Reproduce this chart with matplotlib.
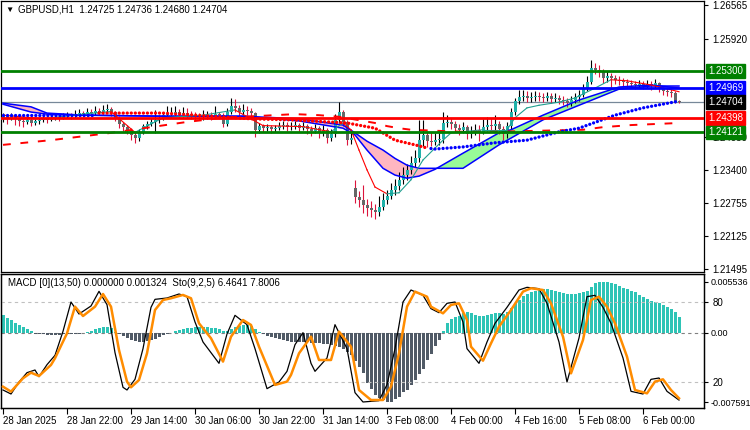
import matplotlib
matplotlib.use("Agg")
import matplotlib.pyplot as plt
import matplotlib.transforms as mtransforms
import numpy as np

plt.rcParams["font.family"] = ["Liberation Sans", "DejaVu Sans"]
plt.rcParams["font.size"] = 7

# ---- price data (H1 bars, GBPUSD) ----
first_open = 1.2440
gap_opens = {88: 1.2305, 169: 1.24725}

closes = [
    1.2443, 1.2440, 1.2445, 1.2438, 1.2434, 1.2432, 1.2436, 1.2430, 1.2434, 1.2436,
    1.2438, 1.2436, 1.2440, 1.2442, 1.2440, 1.2443, 1.2445, 1.2443, 1.2447, 1.2449,
    1.2447, 1.2451, 1.2449, 1.2453, 1.2451, 1.2455, 1.2457, 1.2451, 1.2440, 1.2428,
    1.2422, 1.2417, 1.2407, 1.2401, 1.2413, 1.2424, 1.2428, 1.2432, 1.2436, 1.2440,
    1.2445, 1.2447, 1.2449, 1.2451, 1.2447, 1.2449, 1.2447, 1.2445, 1.2443, 1.2442,
    1.2443, 1.2445, 1.2443, 1.2447, 1.2445, 1.2428, 1.2451, 1.2463, 1.2459, 1.2451,
    1.2455, 1.2453, 1.2449, 1.2417, 1.2424, 1.2420, 1.2422, 1.2418, 1.2420, 1.2424,
    1.2426, 1.2422, 1.2424, 1.2426, 1.2420, 1.2424, 1.2418, 1.2415, 1.2420, 1.2413,
    1.2417, 1.2401, 1.2409, 1.2436, 1.2451, 1.2432, 1.2397, 1.2401, 1.2288, 1.2282,
    1.2273, 1.2267, 1.2263, 1.2259, 1.2269, 1.2282, 1.2290, 1.2301, 1.2309, 1.2321,
    1.2330, 1.2340, 1.2353, 1.2363, 1.2397, 1.2407, 1.2395, 1.2393, 1.2397, 1.2399,
    1.2430, 1.2432, 1.2428, 1.2420, 1.2417, 1.2422, 1.2409, 1.2413, 1.2417, 1.2411,
    1.2422, 1.2426, 1.2424, 1.2428, 1.2418, 1.2409, 1.2424, 1.2451, 1.2472, 1.2480,
    1.2482, 1.2478, 1.2480, 1.2482, 1.2480, 1.2478, 1.2482, 1.2476, 1.2478, 1.2474,
    1.2472, 1.2468, 1.2474, 1.2480, 1.2484, 1.2497, 1.2509, 1.2536, 1.2532, 1.2528,
    1.2516, 1.2520, 1.2516, 1.2513, 1.2511, 1.2509, 1.2507, 1.2505, 1.2503, 1.2505,
    1.2503, 1.2505, 1.2501, 1.2507, 1.2495, 1.2491, 1.2490, 1.2488, 1.24725, 1.24704,
]
highs = [
    1.2449, 1.2447, 1.2450, 1.2448, 1.2442, 1.2438, 1.2441, 1.2439, 1.2438, 1.2440,
    1.2444, 1.2442, 1.2445, 1.2447, 1.2446, 1.2449, 1.2452, 1.2450, 1.2454, 1.2456,
    1.2453, 1.2458, 1.2456, 1.2462, 1.2459, 1.2464, 1.2466, 1.2460, 1.2453, 1.2443,
    1.2432, 1.2426, 1.2420, 1.2412, 1.2418, 1.2428, 1.2434, 1.2440, 1.2455, 1.2446,
    1.2452, 1.2462, 1.2460, 1.2463, 1.2456, 1.2460, 1.2458, 1.2453, 1.2452, 1.2450,
    1.2455, 1.2453, 1.2451, 1.2462, 1.2452, 1.2449, 1.2458, 1.2478, 1.2476, 1.2465,
    1.2466, 1.2462, 1.2458, 1.2452, 1.2430, 1.2428, 1.2429, 1.2426, 1.2427, 1.2431,
    1.2434, 1.2431, 1.2432, 1.2434, 1.2430, 1.2432, 1.2428, 1.2424, 1.2428, 1.2424,
    1.2427, 1.2420, 1.2418, 1.2448, 1.2470, 1.2455, 1.2436, 1.2410, 1.2320, 1.2300,
    1.2310, 1.2285, 1.2280, 1.2275, 1.2290, 1.2295, 1.2302, 1.2315, 1.2322, 1.2335,
    1.2345, 1.2352, 1.2366, 1.2378, 1.2436, 1.2436, 1.2414, 1.2412, 1.2410, 1.2412,
    1.2451, 1.2446, 1.2440, 1.2434, 1.2428, 1.2432, 1.2426, 1.2424, 1.2428, 1.2426,
    1.2438, 1.2442, 1.2440, 1.2445, 1.2434, 1.2425, 1.2432, 1.2458, 1.2478, 1.2494,
    1.2493, 1.2492, 1.2490, 1.2491, 1.2490, 1.2488, 1.2490, 1.2488, 1.2487, 1.2484,
    1.2482, 1.2478, 1.2482, 1.2488, 1.2494, 1.2505, 1.2520, 1.2551, 1.2546, 1.2542,
    1.2534, 1.2530, 1.2526, 1.2522, 1.2520, 1.2517, 1.2515, 1.2513, 1.2511, 1.2512,
    1.2511, 1.2512, 1.2510, 1.2514, 1.2509, 1.2500, 1.2497, 1.2496, 1.2491, 1.24736,
]
lows = [
    1.2432, 1.2428, 1.2436, 1.2426, 1.2425, 1.2422, 1.2428, 1.2424, 1.2426, 1.2429,
    1.2431, 1.2430, 1.2433, 1.2436, 1.2434, 1.2437, 1.2439, 1.2438, 1.2440, 1.2443,
    1.2441, 1.2444, 1.2443, 1.2446, 1.2445, 1.2448, 1.2450, 1.2444, 1.2434, 1.2420,
    1.2414, 1.2408, 1.2398, 1.2392, 1.2396, 1.2408, 1.2418, 1.2424, 1.2411, 1.2430,
    1.2436, 1.2440, 1.2442, 1.2444, 1.2440, 1.2441, 1.2440, 1.2438, 1.2436, 1.2435,
    1.2436, 1.2438, 1.2436, 1.2439, 1.2437, 1.2422, 1.2425, 1.2448, 1.2452, 1.2444,
    1.2446, 1.2446, 1.2440, 1.2403, 1.2410, 1.2413, 1.2415, 1.2411, 1.2413, 1.2416,
    1.2419, 1.2415, 1.2417, 1.2419, 1.2412, 1.2416, 1.2409, 1.2405, 1.2410, 1.2402,
    1.2405, 1.2391, 1.2396, 1.2404, 1.2430, 1.2425, 1.2387, 1.2390, 1.2276, 1.2268,
    1.2258, 1.2252, 1.2250, 1.2246, 1.2252, 1.2262, 1.2275, 1.2284, 1.2292, 1.2302,
    1.2312, 1.2320, 1.2332, 1.2345, 1.2355, 1.2385, 1.2384, 1.2385, 1.2387, 1.2388,
    1.2392, 1.2422, 1.2419, 1.2412, 1.2406, 1.2410, 1.2400, 1.2402, 1.2406, 1.2396,
    1.2408, 1.2415, 1.2414, 1.2416, 1.2408, 1.2398, 1.2402, 1.2418, 1.2446, 1.2466,
    1.2472, 1.2470, 1.2471, 1.2473, 1.2472, 1.2470, 1.2472, 1.2468, 1.2470, 1.2466,
    1.2464, 1.2460, 1.2462, 1.2468, 1.2472, 1.2480, 1.2492, 1.2505, 1.2524, 1.2518,
    1.2506, 1.2508, 1.2500, 1.2504, 1.2503, 1.2501, 1.2499, 1.2498, 1.2496, 1.2497,
    1.2496, 1.2497, 1.2494, 1.2497, 1.2490, 1.2484, 1.2482, 1.2480, 1.2468, 1.24680,
]

# horizontal levels
level_values = [1.25300, 1.24969, 1.24398, 1.24121]
level_colors = ["#008000", "#0000ff", "#ff0000", "#008000"]
last_price = 1.24704

# moving-average band (slow / fast)
band_idx = [0, 7, 11, 20, 40, 60, 74, 85, 88, 91, 95, 98, 101, 104, 108, 115, 124, 127, 135, 144, 154, 162, 169]
band_slow = [1.2468, 1.2461, 1.2449, 1.2445, 1.2443, 1.2443, 1.2438, 1.2426, 1.2411, 1.2395, 1.2378, 1.2362,
             1.2349, 1.2343, 1.2343, 1.2343, 1.2388, 1.2401, 1.2436, 1.2464, 1.2495, 1.2501, 1.2501]
band_fast = [1.2466, 1.2451, 1.2447, 1.2445, 1.2443, 1.2443, 1.2434, 1.2420, 1.2407, 1.2378, 1.2343, 1.2330,
             1.2324, 1.2328, 1.2341, 1.2372, 1.2411, 1.2417, 1.2445, 1.2474, 1.2499, 1.2503, 1.2497]

# thin fast MA (red falling / teal rising)
fast_idx = [0, 10, 20, 27, 33, 40, 50, 58, 65, 75, 82, 85, 87, 89, 91, 93, 96, 99, 102, 105, 110, 112,
            120, 126, 128, 131, 134, 139, 143, 148, 152, 156, 162, 169]
fast_vals = [1.2445, 1.2438, 1.2447, 1.2452, 1.2412, 1.2440, 1.2445, 1.2455, 1.2425, 1.2423, 1.2413, 1.2430,
             1.2417, 1.2378, 1.2340, 1.2307, 1.2294, 1.2296, 1.2321, 1.2359, 1.2397, 1.2411, 1.2417, 1.2417,
             1.2440, 1.2459, 1.2464, 1.2470, 1.2478, 1.2497, 1.2513, 1.2511, 1.2503, 1.2490]

# dotted trend MA
dots_blue1_idx = [0, 23]
dots_blue1 = [1.2445, 1.2445]
dots_red_idx = [24, 40, 62, 72, 86, 93, 98, 103, 106]
dots_red = [1.2449, 1.2449, 1.2438, 1.2436, 1.2430, 1.2420, 1.2397, 1.2388, 1.2382]
dots_blue2_idx = [107, 108, 115, 123, 131, 139, 144, 153, 160, 169]
dots_blue2 = [1.2381, 1.2380, 1.2384, 1.2392, 1.2397, 1.2413, 1.2420, 1.2445, 1.2459, 1.2472]

# slow dashed MA
slow_idx = [0, 12, 27, 37, 46, 55, 73, 79, 84, 90, 93, 96, 99, 102, 115, 122, 145, 150, 157, 169]
slow_vals = [1.2388, 1.2397, 1.2411, 1.2422, 1.2432, 1.2440, 1.2447, 1.2445, 1.2442, 1.2434,
             1.2430, 1.2424, 1.2420, 1.2417, 1.2413, 1.2413, 1.2417, 1.2422, 1.2426, 1.2430]

# MACD histogram
macd = [
    0.0019, 0.0016, 0.0014, 0.0011, 0.0008, 0.0006, 0.0004, 0.0002, -0.0001, -0.0002,
    -0.0002, -0.0003, -0.0003, -0.0003, -0.0003, -0.0002, -0.0002, -0.0002, -0.0001, -0.0001,
    0.0000, 0.0001, 0.0002, 0.0004, 0.0005, 0.0006, 0.0006, 0.0005, 0.0001, -0.0002,
    -0.0004, -0.0006, -0.0008, -0.0009, -0.0010, -0.0010, -0.0009, -0.0008, -0.0007, -0.0005,
    -0.0003, -0.0002, 0.0000, 0.0002, 0.0003, 0.0004, 0.0005, 0.0005, 0.0006, 0.0006,
    0.0006, 0.0006, 0.0005, 0.0005, 0.0004, 0.0002, 0.0002, 0.0004, 0.0006, 0.0007,
    0.0008, 0.0008, 0.0007, 0.0004, 0.0001, -0.0002, -0.0004, -0.0005, -0.0006, -0.0007,
    -0.0008, -0.0009, -0.0010, -0.0010, -0.0010, -0.0010, -0.0010, -0.0011, -0.0011, -0.0011,
    -0.0012, -0.0013, -0.0014, -0.0015, -0.0016, -0.0018, -0.0021, -0.0024, -0.0031, -0.0038,
    -0.0044, -0.0055, -0.0062, -0.0068, -0.0072, -0.0074, -0.0076, -0.0076, -0.0073, -0.0070,
    -0.0065, -0.0063, -0.0057, -0.0052, -0.0045, -0.0040, -0.0030, -0.0023, -0.0015, -0.0008,
    0.0002, 0.0010, 0.0015, 0.0017, 0.0018, 0.0021, 0.0022, 0.0021, 0.0019, 0.0018,
    0.0018, 0.0019, 0.0020, 0.0021, 0.0021, 0.0020, 0.0023, 0.0027, 0.0032, 0.0036,
    0.0040, 0.0042, 0.0044, 0.0046, 0.0047, 0.0048, 0.0048, 0.0047, 0.0046, 0.0044,
    0.0043, 0.0042, 0.0042, 0.0042, 0.0043, 0.0044, 0.0046, 0.0050, 0.0054, 0.0055,
    0.0055, 0.0055, 0.0054, 0.0053, 0.0051, 0.0049, 0.0048, 0.0046, 0.0044, 0.0041,
    0.0039, 0.0037, 0.0035, 0.0033, 0.0032, 0.0030, 0.0028, 0.0026, 0.0022, 0.0017,
]

# Stochastic (9,2,5)
sto_main_idx = [0, 2, 4, 6, 8, 9, 11, 13, 15, 17, 19, 22, 24, 26, 28, 30, 31, 33, 35, 37, 38, 41, 44, 46, 48,
                50, 54, 56, 58, 61, 63, 66, 69, 71, 73, 75, 77, 78, 81, 83, 86, 88, 90, 94, 96, 98, 100, 102,
                105, 107, 109, 111, 113, 115, 116, 119, 121, 123, 126, 129, 131, 134, 136, 139, 141, 144, 146,
                148, 150, 152, 155, 157, 160, 162, 164, 166, 169]
sto_main = [14, 11, 20, 27, 29, 24, 33, 40, 58, 80, 71, 77, 88, 78, 42, 16, 14, 22, 45, 76, 82, 83, 86, 84, 65,
            50, 34, 56, 70, 63, 45, 15, 20, 28, 48, 57, 34, 28, 38, 63, 45, 12, 5, 6, 18, 45, 80, 89,
            85, 75, 72, 79, 80, 65, 45, 34, 50, 64, 76, 89, 91, 90, 79, 50, 20, 53, 84,
            85, 76, 64, 38, 13, 11, 22, 23, 13, 6.4641]
sto_sig_idx = [0, 2, 5, 7, 9, 12, 13, 16, 18, 20, 23, 25, 27, 29, 31, 32, 34, 36, 38, 40, 42, 45, 47, 49, 52,
               55, 57, 60, 62, 64, 68, 71, 72, 74, 77, 79, 82, 84, 87, 89, 92, 95, 97, 99, 101, 103, 106, 107,
               110, 112, 114, 116, 117, 120, 122, 124, 127, 130, 132, 135, 137, 140, 142, 145, 147, 149, 151,
               153, 156, 158, 161, 163, 165, 167, 169]
sto_sig = [16.5, 12.8, 22.8, 27, 24.5, 32.8, 37.8, 56.5, 76.5, 69.5, 76.5, 86, 76.5, 44, 20.3, 16, 21.5, 41.5,
           74, 81.5, 82.8, 85.3, 82.8, 64, 52.8, 35.3, 54, 66.5, 62.8, 46.5, 17.8, 20.3, 25.3, 41.5, 54, 36.5,
           36.5, 57.8, 46.5, 14, 6.5, 6.5, 16.5, 41.5, 76.5, 87.8, 84, 76.5, 71.5, 77.8, 79, 66.5, 46.5, 36, 49,
           61.5, 74, 87.8, 90.3, 89, 79, 54, 26.5, 51.5, 81.5, 84, 76.5, 64, 39, 14, 11.5, 20.3, 22, 14, 7.8006]

price_ticks = [1.26565, 1.25920, 1.24030, 1.23400, 1.22755, 1.22125, 1.21495]
date_idx = [0, 16, 32, 48, 64, 80, 96, 112, 128, 144, 160]
date_labels = ["28 Jan 2025", "28 Jan 22:00", "29 Jan 14:00", "30 Jan 06:00", "30 Jan 22:00",
               "31 Jan 14:00", "3 Feb 08:00", "4 Feb 00:00", "4 Feb 16:00", "5 Feb 08:00", "6 Feb 00:00"]

header = "GBPUSD,H1  1.24725 1.24736 1.24680 1.24704"
sub_header = "MACD [0](13,50) 0.000000 0.001324  Sto(9,2,5) 6.4641 7.8006"

# ---- figure ----
W, H = 750, 430
fig = plt.figure(figsize=(7.5, 4.3), dpi=100)
ax = fig.add_axes([1 / W, (H - 272) / H, 703 / W, 271 / H])
ax2 = fig.add_axes([1 / W, (H - 408) / H, 703 / W, 134 / H], sharex=ax)

idx = np.arange(len(closes))
c = np.array(closes)
o = np.array([first_open] + closes[:-1])
for k, v in gap_opens.items():
    o[k] = v
h = np.array(highs)
l = np.array(lows)
up = c >= o
body_lo = np.minimum(o, c)
body_h = np.maximum(np.abs(c - o), 0.00004)

# band fill + lines
bi = np.array(band_idx)
bs = np.array(band_slow)
bf = np.array(band_fast)
ax.fill_between(bi, bs, bf, where=bf >= bs, interpolate=True, color="#98fb98", lw=0, zorder=1)
ax.fill_between(bi, bs, bf, where=bf < bs, interpolate=True, color="#ffb6c1", lw=0, zorder=1)

# candles
ax.vlines(idx[up], l[up], h[up], color="black", lw=0.8, zorder=3)
ax.vlines(idx[~up], l[~up], h[~up], color="#dc143c", lw=0.8, zorder=3)
ax.bar(idx[up], body_h[up], 0.75, bottom=body_lo[up], color="#20b2aa", lw=0, zorder=4)
ax.bar(idx[~up], body_h[~up], 0.75, bottom=body_lo[~up], color="#666666", lw=0, zorder=4)

ax.plot(bi, bs, color="#0000ff", lw=1.1, zorder=5)
ax.plot(bi, bf, color="#0000ff", lw=1.1, zorder=5)

for k in range(len(fast_idx) - 1):
    col = "#20a090" if fast_vals[k + 1] >= fast_vals[k] else "#ff0000"
    ax.plot(fast_idx[k:k + 2], fast_vals[k:k + 2], color=col, lw=0.8, zorder=5)

ax.plot(slow_idx, slow_vals, color="#ff0000", lw=1.4, dashes=(4, 5), zorder=5)

dot_style = dict(lw=2.4, linestyle=(0, (0.01, 1.2)), dash_capstyle="round", zorder=6)
ax.plot(dots_blue1_idx, dots_blue1, color="#0000ff", **dot_style)
ax.plot(dots_red_idx, dots_red, color="#ff0000", **dot_style)
ax.plot(dots_blue2_idx, dots_blue2, color="#0000ff", **dot_style)

# levels
ax.axhline(last_price, color="#778899", lw=0.9, zorder=2)
for v, col in zip(level_values, level_colors):
    ax.axhline(v, color=col, lw=2, zorder=7)

trans = mtransforms.blended_transform_factory(ax.transAxes, ax.transData)
box_vals = level_values[:2] + [last_price] + level_values[2:]
box_cols = level_colors[:2] + ["#000000"] + level_colors[2:]
for v, col in zip(box_vals, box_cols):
    ax.text(1.006, v, f"{v:.5f}", transform=trans, color="white", va="center", ha="left",
            bbox=dict(boxstyle="square,pad=0.18", fc=col, ec=col), clip_on=False, zorder=10)

ax.set_xlim(-0.5, 175.25)
ax.set_ylim(1.21439, 1.26642)
ax.yaxis.tick_right()
ax.set_yticks(price_ticks)
ax.set_yticklabels([f"{p:.5f}" for p in price_ticks])
ax.tick_params(axis="y", direction="out", length=3, pad=3, width=0.8)
ax.tick_params(axis="x", bottom=False, labelbottom=False)

# ---- lower panel ----
bar_cols = ["#2ec4b6" if v > 0 else "#505a66" for v in macd]
ax2.bar(idx, macd, 0.75, color=bar_cols, lw=0, zorder=2)
ax2.axhline(0, color="#808080", lw=0.8, ls=(0, (3, 3)), zorder=1)
ax2.set_ylim(-0.008247, 0.006411)

ax3 = ax2.twinx()
ax3.set_ylim(0.5, 101)
ax3.axhline(80, color="#c0c0c0", lw=0.8, ls=(0, (3, 3)), zorder=1)
ax3.axhline(20, color="#c0c0c0", lw=0.8, ls=(0, (3, 3)), zorder=1)
ax3.plot(sto_main_idx, sto_main, color="black", lw=0.9, zorder=3)
ax3.plot(sto_sig_idx, sto_sig, color="#ff8c00", lw=1.8, zorder=4)
ax3.set_yticks([80, 20])
ax3.set_yticklabels(["80", "20"])
ax3.tick_params(axis="y", direction="out", length=3, pad=3, width=0.8)

# twinx moves the original ticks to the left, so put them back on the right
ax2.yaxis.tick_right()
ax2.set_yticks([0.005536, 0.0, -0.007591])
ax2.set_yticklabels(["0.005536", "0.00", "-0.007591"])
ax2.tick_params(axis="y", direction="out", length=3, pad=1.5, width=0.8, labelsize=6.5)
ax2.set_xticks(date_idx)
ax2.set_xticklabels(date_labels)
for t in ax2.get_xticklabels():
    t.set_horizontalalignment("left")
ax2.tick_params(axis="x", direction="out", length=4, pad=2, width=0.8)

for a in (ax, ax2, ax3):
    for s in a.spines.values():
        s.set_color("black")
        s.set_linewidth(0.9)

fig.text(5 / W, 1 - 10 / H, "\u25bc", fontsize=6, va="center", ha="left")
fig.text(18 / W, 1 - 10 / H, header, va="center", ha="left")
fig.text(8 / W, 1 - 283 / H, sub_header, va="center", ha="left")

fig.savefig("out.png", dpi=100)
